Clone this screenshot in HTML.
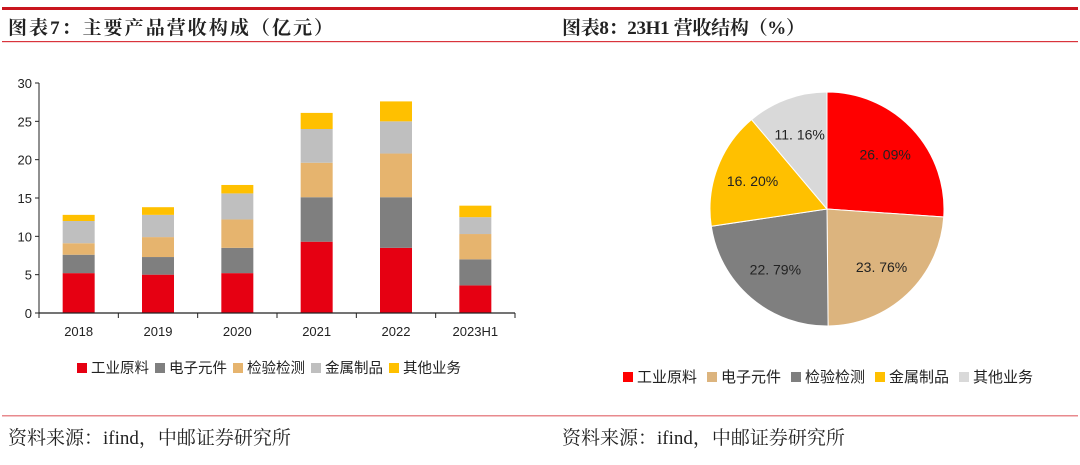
<!DOCTYPE html>
<html><head><meta charset="utf-8">
<style>
body{margin:0;background:#fff;width:1080px;height:460px;overflow:hidden;}
svg text{font-family:"Liberation Sans","Noto Sans CJK SC",sans-serif;}
.ser{font-family:"Liberation Serif","Noto Serif CJK SC",serif !important;}
</style></head>
<body>
<svg id="s" width="1080" height="460">
<rect x="2" y="7" width="1076" height="3" fill="#c9151e"/>
<text class="ser" x="8" y="34" font-size="19" font-weight="bold" fill="#222" textLength="325">图表7：主要产品营收构成（亿元）</text>
<text class="ser" x="562" y="34" font-size="19" font-weight="bold" fill="#222" textLength="243">图表8：23H1 营收结构（%）</text>
<rect x="2" y="41" width="1076" height="1.2" fill="#d9343c"/>
<rect x="2" y="415" width="1076" height="1.5" fill="#e88a8e"/>
<text class="ser" x="8" y="444" font-size="19" fill="#222">资料来源：ifind，中邮证券研究所</text>
<text class="ser" x="562" y="444" font-size="19" fill="#222">资料来源：ifind，中邮证券研究所</text>
<g id="bars"></g>
<g id="pie"></g>
</svg>
<script>
const categories=["2018","2019","2020","2021","2022","2023H1"];
const seriesNames=["工业原料","电子元件","检验检测","金属制品","其他业务"];
const seriesColors=["#e60012","#7f7f7f","#e6b46e","#bfbfbf","#ffc000"];
const industrial=[5.2,5.0,5.2,9.3,8.5,3.6];
const electronic=[2.4,2.3,3.3,5.8,6.6,3.4];
const testing=[1.5,2.6,3.7,4.5,5.7,3.3];
const metal=[2.9,2.9,3.4,4.4,4.2,2.2];
const other=[0.8,1.0,1.1,2.1,2.6,1.5];
const yTicks=[0,5,10,15,20,25,30];
const pieNames=["工业原料","电子元件","检验检测","金属制品","其他业务"];
const pieValues=[26.09,23.76,22.79,16.20,11.16];
const pieColors=["#ff0000","#dcb47e","#7f7f7f","#ffc000","#d9d9d9"];

const NS="http://www.w3.org/2000/svg";
function mk(t,a,p){const e=document.createElementNS(NS,t);for(const k in a)e.setAttribute(k,a[k]);p.appendChild(e);return e;}
const bars=document.getElementById('bars');
const x0=39,x1=515,yBase=313,yTop=83,yMax=30;
const yS=v=>yBase-(v/yMax)*(yBase-yTop);
const bw=(x1-x0)/categories.length;
const xC=i=>x0+bw*(i+0.5);
let e;
e=mk('line',{x1:x0,y1:yTop,x2:x0,y2:yBase,stroke:'#222','stroke-width':1},bars);


yTicks.forEach(t=>{
 e=mk('line',{x1:x0-4,y1:yS(t),x2:x0,y2:yS(t),stroke:'#222'},bars);
 
 
 e=mk('text',{x:x0-7,y:yS(t)+5,'font-size':13,'text-anchor':'end',fill:'#222'},bars);e.textContent=t;
 
 
});
const all=[industrial,electronic,testing,metal,other];
categories.forEach((c,i)=>{
 let acc=0;
 all.forEach((s,j)=>{
  const y0=yS(acc),y1=yS(acc+s[i]);acc+=s[i];
  e=mk('rect',{x:xC(i)-16,y:y1,width:32,height:y0-y1,fill:seriesColors[j]},bars);
  
  
 });
 e=mk('text',{x:xC(i),y:336,'font-size':13,'text-anchor':'middle',fill:'#222'},bars);e.textContent=c;
 
 
});
e=mk('line',{x1:x0,y1:yBase,x2:x1,y2:yBase,stroke:'#222','stroke-width':1.2},bars);


for(let i=0;i<=categories.length;i++){
 e=mk('line',{x1:x0+bw*i,y1:yBase,x2:x0+bw*i,y2:yBase+5,stroke:'#222'},bars);
 
 
}
function legend(g,names,colors,startX,y,spacing,fs){
 let x=startX;
 names.forEach((n,i)=>{
  e=mk('rect',{x:x,y:y-9,width:10,height:10,fill:colors[i]},g);
  
  
  e=mk('text',{x:x+14,y:y+1,'font-size':fs,fill:'#222'},g);e.textContent=n;
  
  
  x+=spacing;
 });
}
legend(bars,seriesNames,seriesColors,77,372,78,14.5);
const pie=document.getElementById('pie');
const cx=827,cy=209,r=117;
const tot=pieValues.reduce((a,b)=>a+b,0);
let ang=-Math.PI/2;
pieValues.forEach((v,i)=>{
 const a2=ang+v/tot*2*Math.PI;
 const p1=[cx+r*Math.cos(ang),cy+r*Math.sin(ang)],p2=[cx+r*Math.cos(a2),cy+r*Math.sin(a2)];
 e=mk('path',{d:`M${cx},${cy}L${p1[0]},${p1[1]}A${r},${r} 0 ${a2-ang>Math.PI?1:0} 1 ${p2[0]},${p2[1]}Z`,fill:pieColors[i],stroke:'#fff','stroke-width':1},pie);
 
 
 const m=(ang+a2)/2,lr=r*0.68;
 e=mk('text',{x:cx+lr*Math.cos(m),y:cy+lr*Math.sin(m)+5,'font-size':14,'text-anchor':'middle',fill:'#222'},pie);
 e.textContent=v.toFixed(2).replace('.','. ')+'%';
 
 
 ang=a2;
});
legend(pie,pieNames,pieColors,623,381,84,15);
</script>
</body></html>
